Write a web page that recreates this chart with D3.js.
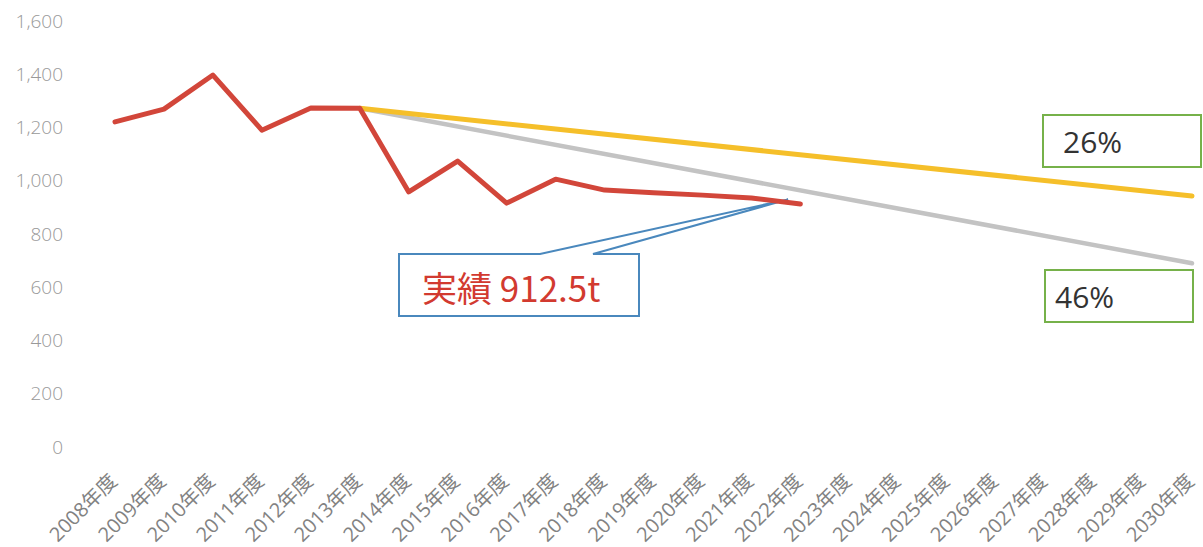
<!DOCTYPE html>
<html>
<head>
<meta charset="utf-8">
<script src="https://cdn.jsdelivr.net/npm/d3@7"></script>
<style>
  body { margin: 0; background: #fff; }
  svg { display: block; }
</style>
</head>
<body>
<svg id="canvas"></svg>
<script>
const width = 1203, height = 547;

/* Data */
const categories = ["2008年度", "2009年度", "2010年度", "2011年度", "2012年度", "2013年度",
    "2014年度", "2015年度", "2016年度", "2017年度", "2018年度", "2019年度", "2020年度",
    "2021年度", "2022年度", "2023年度", "2024年度", "2025年度", "2026年度", "2027年度",
    "2028年度", "2029年度", "2030年度"];
const actualYears = categories.slice(0, 15);
const actualValues = [1221, 1269, 1397, 1190, 1273, 1272, 958, 1074, 916, 1006, 965, 955, 946, 935, 912.5];
const targetYears = ["2013年度", "2030年度"];
const target26 = [1272, 943];
const target46 = [1272, 690];
const yTicks = [0, 200, 400, 600, 800, 1000, 1200, 1400, 1600];

const latin = "'Open Sans', 'Noto Sans CJK JP', sans-serif";

/* Sets up svg */
const svg = d3.select("#canvas")
    .attr("width", width)
    .attr("height", height);

const x = d3.scalePoint()
    .domain(categories)
    .range([115, 1192]);

const y = d3.scaleLinear()
    .domain([0, 1600])
    .range([447, 21]);

/* Y tick labels, no axis line */
svg.append("g")
    .selectAll("text")
    .data(yTicks)
    .enter()
    .append("text")
    .attr("x", 63)
    .attr("y", d => y(d))
    .attr("dy", "0.35em")
    .attr("text-anchor", "end")
    .attr("font-family", latin)
    .attr("font-size", 19)
    .attr("font-weight", 300)
    .attr("fill", "#999")
    .text(d => d3.format(",")(d));

/* X tick labels, rotated */
svg.append("g")
    .selectAll("text")
    .data(categories)
    .enter()
    .append("text")
    .attr("transform", d => `translate(${x(d) - 2},477) rotate(-45)`)
    .attr("text-anchor", "end")
    .attr("dominant-baseline", "central")
    .attr("font-family", latin)
    .attr("font-size", 20)
    .attr("fill", "#828282")
    .text(d => d);

/* Callout for the actual value */
const tipX = x("2021年度") + 0.75 * x.step();
const tipY = y(930);
const box = { x0: 399, y0: 254, x1: 639, y1: 316 };
const callout = svg.append("g");
callout.append("path")
    .attr("d", `M${box.x0},${box.y0} L540,${box.y0} L${tipX},${tipY} L593,${box.y0} L${box.x1},${box.y0} L${box.x1},${box.y1} L${box.x0},${box.y1} Z`)
    .attr("fill", "#fff")
    .attr("stroke", "#4a88bd")
    .attr("stroke-width", 2);
callout.append("text")
    .attr("x", 422)
    .attr("y", 302)
    .attr("font-family", "'Noto Sans CJK JP', sans-serif")
    .attr("font-size", 35)
    .attr("fill", "#d23a30")
    .text("実績 912.5t");

/* Lines */
const line = d3.line()
    .x(d => x(d[0]))
    .y(d => y(d[1]));

const series = [
    { years: targetYears, values: target46, color: "#c3c3c3", w: 4.5 },
    { years: targetYears, values: target26, color: "#f5bf2a", w: 5 },
    { years: actualYears, values: actualValues, color: "#d2463a", w: 5 }
];

svg.append("g")
    .selectAll("path")
    .data(series)
    .enter()
    .append("path")
    .attr("d", d => line(d3.zip(d.years, d.values)))
    .attr("fill", "none")
    .attr("stroke", d => d.color)
    .attr("stroke-width", d => d.w)
    .attr("stroke-linejoin", "round")
    .attr("stroke-linecap", "round");

/* Reduction labels */
const pctBoxes = [
    { text: "26%", x0: 1043, y0: 115, x1: 1201, y1: 167, tx: 1063, ty: 153 },
    { text: "46%", x0: 1045, y0: 270, x1: 1193, y1: 322, tx: 1055, ty: 308 }
];
const pct = svg.append("g")
    .selectAll("g")
    .data(pctBoxes)
    .enter()
    .append("g");
pct.append("rect")
    .attr("x", d => d.x0)
    .attr("y", d => d.y0)
    .attr("width", d => d.x1 - d.x0)
    .attr("height", d => d.y1 - d.y0)
    .attr("fill", "#fff")
    .attr("stroke", "#76b14a")
    .attr("stroke-width", 2);
pct.append("text")
    .attr("x", d => d.tx)
    .attr("y", d => d.ty)
    .attr("font-family", latin)
    .attr("font-size", 30)
    .attr("fill", "#333")
    .text(d => d.text);
</script>
</body>
</html>
